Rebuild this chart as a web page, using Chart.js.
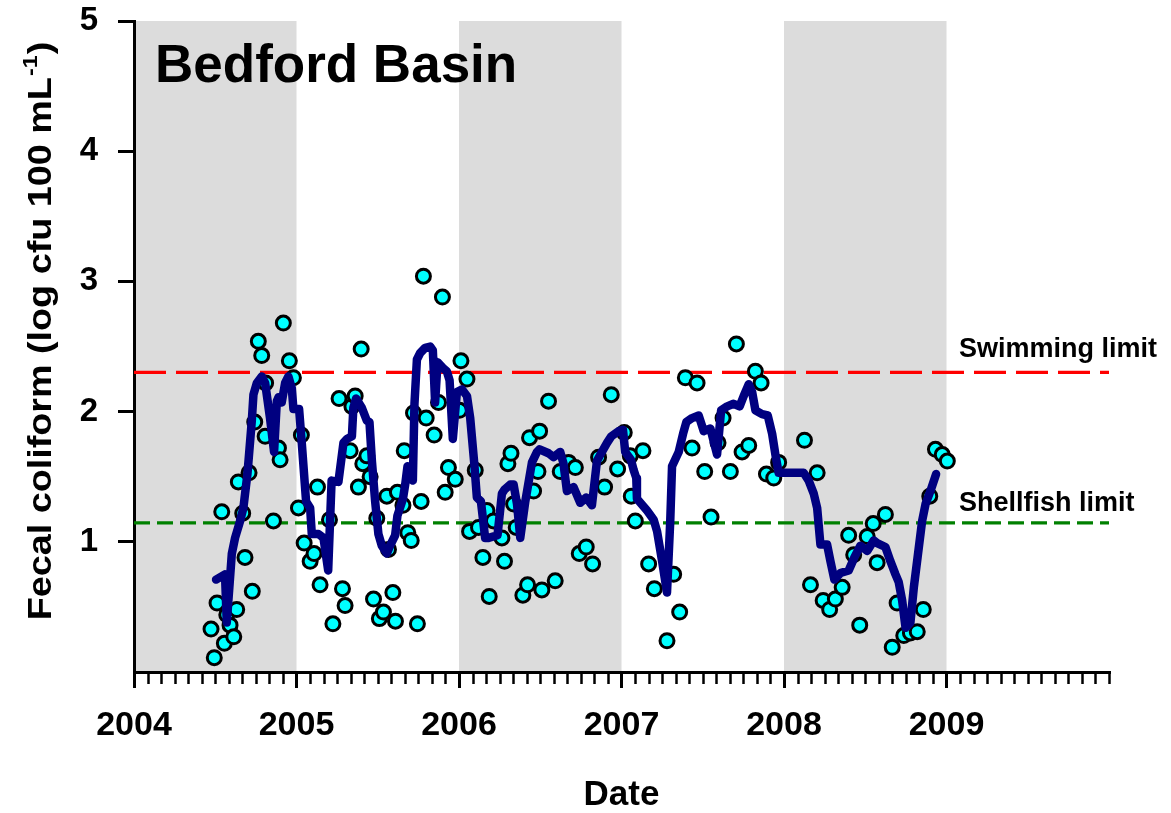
<!DOCTYPE html>
<html>
<head>
<meta charset="utf-8">
<script src="https://cdn.jsdelivr.net/npm/chart.js@4/dist/chart.umd.min.js"></script>
<style>
  html, body { margin: 0; padding: 0; background: #ffffff; }
  canvas { display: block; }
</style>
</head>
<body>
<canvas id="c" width="1171" height="813"></canvas>
<script>
// ---------------- DATA ----------------
const chartTitle = 'Bedford Basin';
const xAxisTitle = 'Date';
const yAxisTitleParts = ['Fecal coliform (log cfu 100 mL', '-1', ')'];
const yearTicks = [2004, 2005, 2006, 2007, 2008, 2009, 2010];
const valueTicks = [0, 1, 2, 3, 4, 5];
const shadedYears = [[2004, 2005], [2006, 2007], [2008, 2009]];
const swimmingLimit = 2.301;   // log10(200)
const shellfishLimit = 1.146;  // log10(14)
const limitLabels = ['Swimming limit', 'Shellfish limit'];

// individual samples (decimal year, log cfu)
const sampleDates = [
  2004.474, 2004.494, 2004.511, 2004.540, 2004.556, 2004.571, 2004.591, 2004.614, 2004.632, 2004.642,
  2004.669, 2004.683, 2004.708, 2004.728, 2004.743, 2004.765, 2004.786, 2004.807, 2004.810, 2004.858,
  2004.889, 2004.899, 2004.919, 2004.956, 2004.981, 2005.012, 2005.030, 2005.047, 2005.084, 2005.108,
  2005.129, 2005.145, 2005.203, 2005.224, 2005.262, 2005.283, 2005.299, 2005.330, 2005.341, 2005.361,
  2005.381, 2005.398, 2005.408, 2005.433, 2005.453, 2005.474, 2005.494, 2005.510, 2005.535, 2005.556,
  2005.566, 2005.593, 2005.609, 2005.621, 2005.655, 2005.663, 2005.685, 2005.706, 2005.720, 2005.744,
  2005.767, 2005.781, 2005.798, 2005.847, 2005.874, 2005.898, 2005.915, 2005.935, 2005.977, 2006.003,
  2006.012, 2006.049, 2006.065, 2006.100, 2006.120, 2006.147, 2006.172, 2006.186, 2006.212, 2006.264,
  2006.280, 2006.301, 2006.320, 2006.336, 2006.352, 2006.393, 2006.422, 2006.434, 2006.459, 2006.486,
  2006.496, 2006.510, 2006.551, 2006.592, 2006.623, 2006.674, 2006.716, 2006.740, 2006.783, 2006.822,
  2006.859, 2006.896, 2006.937, 2006.976, 2007.017, 2007.054, 2007.060, 2007.085, 2007.132, 2007.167,
  2007.202, 2007.280, 2007.321, 2007.358, 2007.393, 2007.434, 2007.465, 2007.512, 2007.551, 2007.594,
  2007.625, 2007.670, 2007.707, 2007.742, 2007.783, 2007.824, 2007.859, 2007.892, 2007.937, 2007.967,
  2008.126, 2008.163, 2008.204, 2008.241, 2008.281, 2008.316, 2008.358, 2008.398, 2008.429, 2008.466,
  2008.512, 2008.549, 2008.573, 2008.624, 2008.666, 2008.696, 2008.737, 2008.778, 2008.820, 2008.857,
  2008.897, 2008.932, 2008.974, 2009.005
];
const sampleValues = [
  0.33, 0.11, 0.53, 1.23, 0.22, 0.44, 0.36, 0.27, 0.48, 1.46,
  1.22, 0.88, 1.53, 0.62, 1.92, 2.54, 2.43, 1.81, 2.22, 1.16,
  1.72, 1.63, 2.68, 2.39, 2.26, 1.26, 1.82, 0.99, 0.85, 0.91,
  1.42, 0.67, 1.17, 0.37, 2.10, 0.64, 0.51, 1.70, 2.04, 2.12,
  1.42, 2.48, 1.60, 1.66, 1.50, 0.56, 1.18, 0.41, 0.46, 1.35,
  0.94, 0.61, 0.39, 1.38, 1.28, 1.70, 1.07, 1.01, 1.99, 0.37,
  1.31, 3.04, 1.95, 1.82, 2.07, 2.88, 1.38, 1.57, 1.48, 2.01,
  2.39, 2.25, 1.08, 1.55, 1.11, 0.88, 1.24, 0.58, 1.16, 1.03,
  0.85, 1.60, 1.68, 1.29, 1.11, 0.59, 0.67, 1.80, 1.39, 1.54,
  1.85, 0.63, 2.08, 0.70, 1.54, 1.61, 1.57, 0.91, 0.96, 0.83,
  1.65, 1.42, 2.13, 1.56, 1.84, 1.66, 1.35, 1.16, 1.70, 0.83,
  0.64, 0.24, 0.75, 0.46, 2.26, 1.72, 2.22, 1.54, 1.19, 1.76,
  1.95, 1.54, 2.52, 1.69, 1.74, 2.31, 2.22, 1.52, 1.49, 1.61,
  1.78, 0.67, 1.53, 0.55, 0.48, 0.56, 0.65, 1.05, 0.90, 0.36,
  1.04, 1.14, 0.84, 1.21, 0.19, 0.53, 0.28, 0.30, 0.31, 0.48,
  1.35, 1.71, 1.67, 1.62
];

// running mean (decimal year, log cfu)
const meanDates = [
  2004.505, 2004.560, 2004.571, 2004.602, 2004.622, 2004.653, 2004.673, 2004.698, 2004.725, 2004.735,
  2004.756, 2004.786, 2004.807, 2004.837, 2004.862, 2004.879, 2004.889, 2004.909, 2004.930, 2004.950,
  2004.971, 2004.981, 2005.016, 2005.033, 2005.059, 2005.084, 2005.094, 2005.135, 2005.166, 2005.195,
  2005.216, 2005.258, 2005.289, 2005.310, 2005.341, 2005.350, 2005.367, 2005.402, 2005.433, 2005.449,
  2005.464, 2005.484, 2005.504, 2005.525, 2005.556, 2005.576, 2005.607, 2005.621, 2005.655, 2005.669,
  2005.683, 2005.716, 2005.726, 2005.741, 2005.761, 2005.792, 2005.823, 2005.839, 2005.853, 2005.868,
  2005.905, 2005.925, 2005.942, 2005.962, 2005.987, 2006.018, 2006.049, 2006.069, 2006.094, 2006.110,
  2006.135, 2006.161, 2006.182, 2006.237, 2006.264, 2006.280, 2006.315, 2006.336, 2006.357, 2006.377,
  2006.408, 2006.449, 2006.480, 2006.496, 2006.551, 2006.582, 2006.623, 2006.643, 2006.664, 2006.705,
  2006.746, 2006.783, 2006.818, 2006.849, 2006.870, 2006.911, 2006.937, 2006.982, 2007.009, 2007.023,
  2007.058, 2007.075, 2007.091, 2007.095, 2007.157, 2007.198, 2007.219, 2007.250, 2007.280, 2007.300,
  2007.311, 2007.352, 2007.379, 2007.399, 2007.434, 2007.475, 2007.506, 2007.547, 2007.588, 2007.613,
  2007.650, 2007.690, 2007.727, 2007.752, 2007.783, 2007.804, 2007.824, 2007.865, 2007.900, 2007.927,
  2007.947, 2007.967, 2008.121, 2008.152, 2008.183, 2008.204, 2008.224, 2008.265, 2008.286, 2008.310,
  2008.347, 2008.398, 2008.433, 2008.470, 2008.512, 2008.552, 2008.573, 2008.624, 2008.655, 2008.686,
  2008.706, 2008.727, 2008.748, 2008.778, 2008.799, 2008.830, 2008.850, 2008.871, 2008.901, 2008.936
];
const meanValues = [
  0.71, 0.75, 0.38, 0.91, 1.03, 1.16, 1.26, 1.52, 1.93, 2.13,
  2.22, 2.27, 2.22, 1.95, 1.69, 2.08, 2.11, 2.07, 2.22, 2.27,
  2.18, 2.02, 2.02, 1.75, 1.31, 1.26, 1.06, 1.06, 1.03, 0.78,
  1.47, 1.46, 1.76, 1.79, 1.81, 2.03, 2.10, 2.03, 1.93, 1.92,
  1.62, 1.31, 1.06, 0.97, 0.91, 0.97, 1.05, 1.20, 1.33, 1.44,
  1.58, 1.47, 2.06, 2.40, 2.45, 2.49, 2.50, 2.47, 2.07, 2.38,
  2.33, 2.31, 2.24, 1.79, 2.15, 2.17, 2.12, 1.95, 1.60, 1.34,
  1.31, 1.03, 1.03, 1.05, 1.37, 1.40, 1.44, 1.44, 1.29, 1.03,
  1.31, 1.61, 1.69, 1.71, 1.68, 1.65, 1.69, 1.60, 1.39, 1.42,
  1.30, 1.34, 1.28, 1.62, 1.67, 1.76, 1.81, 1.85, 1.86, 1.69,
  1.63, 1.55, 1.49, 1.33, 1.24, 1.17, 1.08, 0.85, 0.61, 1.16,
  1.58, 1.69, 1.83, 1.92, 1.95, 1.97, 1.85, 1.87, 1.67, 2.01,
  2.04, 2.06, 2.04, 2.12, 2.21, 2.15, 2.01, 1.98, 1.97, 1.83,
  1.67, 1.53, 1.53, 1.47, 1.37, 1.26, 0.98, 0.98, 0.85, 0.71,
  0.76, 0.78, 0.88, 0.97, 0.93, 1.01, 0.99, 0.96, 0.85, 0.75,
  0.69, 0.55, 0.34, 0.38, 0.65, 0.96, 1.16, 1.29, 1.39, 1.52
];

// ---------------- CHART ----------------
const FONT = "'Liberation Sans', Arial, Helvetica, sans-serif";
const xMin = yearTicks[0], xMax = yearTicks[yearTicks.length - 1];

const pts = sampleDates.map((d, i) => ({ x: d, y: sampleValues[i] }));
const avg = meanDates.map((d, i) => ({ x: d, y: meanValues[i] }));
const swim = [{ x: xMin, y: swimmingLimit }, { x: xMax, y: swimmingLimit }];
const shell = [{ x: xMin, y: shellfishLimit }, { x: xMax, y: shellfishLimit }];

const decorPlugin = {
  id: 'decor',
  beforeDraw(chart) {
    const { ctx, chartArea: { top, bottom }, scales: { x } } = chart;
    ctx.save();
    ctx.fillStyle = '#ffffff';
    ctx.fillRect(0, 0, chart.width, chart.height);
    ctx.fillStyle = '#DCDCDC';
    shadedYears.forEach(([a, b]) => {
      const x0 = x.getPixelForValue(a), x1 = x.getPixelForValue(b);
      ctx.fillRect(x0, top, x1 - x0, bottom - top);
    });
    ctx.restore();
  },
  afterDraw(chart) {
    const { ctx, chartArea: { bottom }, scales: { x, y } } = chart;
    ctx.save();
    // monthly minor ticks
    ctx.strokeStyle = '#000';
    ctx.lineWidth = 2.5;
    for (let m = 1; m <= (xMax - xMin) * 12; m++) {
      if (m % 12 === 0 && m !== (xMax - xMin) * 12) continue;
      const px = Math.round(x.getPixelForValue(xMin + m / 12)) + 0.5;
      ctx.beginPath();
      ctx.moveTo(px, bottom);
      ctx.lineTo(px, bottom + 12);
      ctx.stroke();
    }
    // chart title inside plot
    ctx.fillStyle = '#000';
    ctx.textBaseline = 'alphabetic';
    ctx.textAlign = 'left';
    ctx.font = 'bold 53px ' + FONT;
    ctx.fillText(chartTitle, 155, 82);
    // limit labels
    ctx.font = 'bold 27px ' + FONT;
    ctx.fillText(limitLabels[0], 959, y.getPixelForValue(swimmingLimit) - 15);
    ctx.fillText(limitLabels[1], 959, y.getPixelForValue(shellfishLimit) - 12);
    // rotated y-axis title with superscript
    const mainFont = 'bold 34px ' + FONT, supFont = 'bold 21px ' + FONT;
    ctx.font = mainFont; const w0 = ctx.measureText(yAxisTitleParts[0]).width;
    const w2 = ctx.measureText(yAxisTitleParts[2]).width;
    ctx.font = supFont; const w1 = ctx.measureText(yAxisTitleParts[1]).width;
    const total = w0 + w1 + w2 + 2;
    ctx.translate(39, 331);
    ctx.rotate(-Math.PI / 2);
    ctx.scale(1.11, 1);
    const baseY = 12;
    let cx = -total / 2;
    ctx.font = mainFont; ctx.fillText(yAxisTitleParts[0], cx, baseY); cx += w0 + 1;
    ctx.font = supFont; ctx.fillText(yAxisTitleParts[1], cx, baseY - 14); cx += w1 + 1;
    ctx.font = mainFont; ctx.fillText(yAxisTitleParts[2], cx, baseY);
    ctx.restore();
  }
};

new Chart(document.getElementById('c'), {
  type: 'scatter',
  data: {
    datasets: [
      {
        type: 'line', label: 'Swimming limit', data: swim,
        borderColor: '#FF0000', borderWidth: 3.3, borderDash: [32, 10],
        pointRadius: 0, fill: false, tension: 0, order: 4
      },
      {
        type: 'line', label: 'Shellfish limit', data: shell,
        borderColor: '#008000', borderWidth: 3.3, borderDash: [16, 7],
        pointRadius: 0, fill: false, tension: 0, order: 3
      },
      {
        type: 'scatter', label: 'Samples', data: pts,
        backgroundColor: '#00FFFF', borderColor: '#000000', borderWidth: 3,
        pointRadius: 7, pointHoverRadius: 7, order: 2
      },
      {
        type: 'line', label: 'Running mean', data: avg,
        borderColor: '#000080', borderWidth: 8.5, pointRadius: 0,
        borderJoinStyle: 'round', borderCapStyle: 'round',
        fill: false, tension: 0, order: 1
      }
    ]
  },
  options: {
    responsive: false,
    animation: false,
    devicePixelRatio: 1,
    layout: { padding: { top: 21, left: 0, right: 62, bottom: 0 } },
    plugins: { legend: { display: false }, tooltip: { enabled: false }, title: { display: false } },
    scales: {
      x: {
        type: 'linear', position: 'bottom', min: xMin, max: xMax,
        afterFit(s) { s.height = 141; s.paddingLeft = 0; s.paddingRight = 0; },
        afterBuildTicks(s) { s.ticks = yearTicks.map(v => ({ value: v })); },
        ticks: {
          autoSkip: false, maxRotation: 0, minRotation: 0, padding: 17,
          color: '#000', font: { family: FONT, size: 34, weight: 'bold' },
          callback: v => (v === xMax ? '' : String(v))
        },
        grid: {
          display: true, drawOnChartArea: false, drawTicks: true, tickLength: 16,
          lineWidth: 3, color: '#000',
          tickColor: c => (c.tick && c.tick.value === xMax ? 'rgba(0,0,0,0)' : '#000')
        },
        border: { display: true, color: '#000', width: 3 },
        title: {
          display: true, text: xAxisTitle, color: '#000',
          font: { family: FONT, size: 35, weight: 'bold', lineHeight: 1 },
          padding: { top: 0, bottom: 0 }
        }
      },
      y: {
        type: 'linear', min: valueTicks[0], max: valueTicks[valueTicks.length - 1],
        afterFit(s) { s.width = 134; s.paddingTop = 0; s.paddingBottom = 0; },
        afterBuildTicks(s) { s.ticks = valueTicks.map(v => ({ value: v })); },
        ticks: {
          padding: 20, color: '#000', font: { family: FONT, size: 33, weight: 'bold' },
          callback: v => (v === 0 ? '' : String(v))
        },
        grid: {
          display: true, drawOnChartArea: false, drawTicks: true, tickLength: 16,
          lineWidth: 3, color: '#000',
          tickColor: c => (c.tick && c.tick.value === 0 ? 'rgba(0,0,0,0)' : '#000')
        },
        border: { display: true, color: '#000', width: 3 },
        title: { display: false }
      }
    }
  },
  plugins: [decorPlugin]
});
</script>
</body>
</html>
